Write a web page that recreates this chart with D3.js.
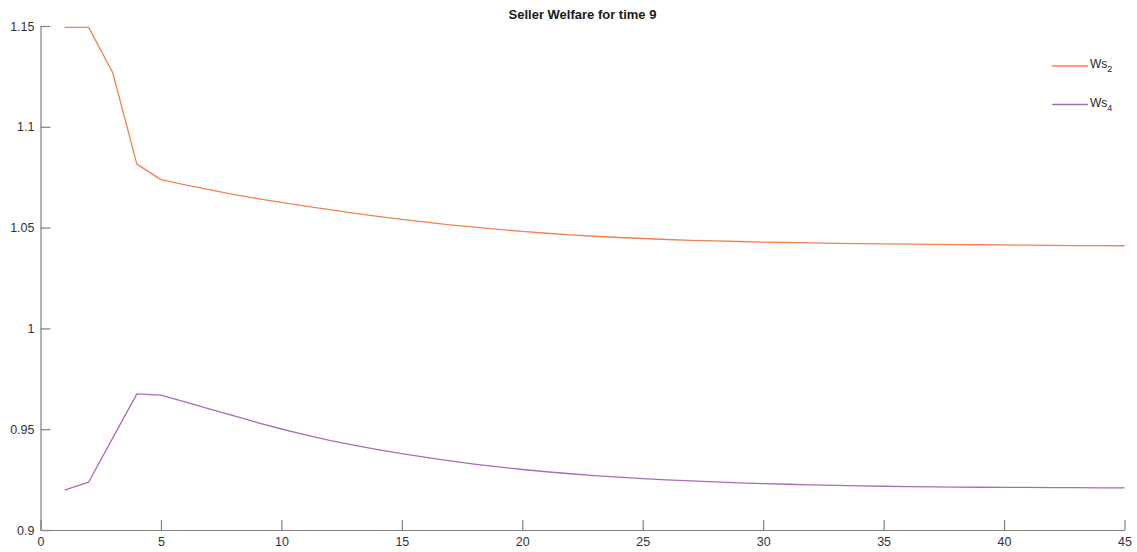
<!DOCTYPE html>
<html>
<head>
<meta charset="utf-8">
<script src="https://cdn.jsdelivr.net/npm/d3@7"></script>
<style>
  html, body { margin: 0; padding: 0; background: #fff; }
  svg { display: block; font-family: "Liberation Sans", Arial, sans-serif; }
</style>
</head>
<body>
<svg id="chart" width="1137" height="552"></svg>
<script>
// Periods 1..45
const periods = d3.range(1, 46);

// Seller welfare, market 2
const ws2 = [
  1.1493, 1.1493, 1.1268, 1.0815, 1.0738, 1.0712, 1.0688, 1.0665, 1.0644, 1.0625,
  1.0607, 1.0589, 1.0572, 1.0556, 1.0541, 1.0527, 1.0514, 1.0502, 1.0491, 1.0481,
  1.0472, 1.0464, 1.0457, 1.0451, 1.0446, 1.0441, 1.0437, 1.0434, 1.0431, 1.0428,
  1.0426, 1.0424, 1.0422, 1.0421, 1.0419, 1.0418, 1.0417, 1.0416, 1.0415, 1.0414,
  1.0413, 1.0412, 1.0411, 1.0411, 1.0410
];

// Seller welfare, market 4
const ws4 = [
  0.9198, 0.9238, 0.9457, 0.9675, 0.9669, 0.9635, 0.9601, 0.9567, 0.9533, 0.9501,
  0.9472, 0.9445, 0.9421, 0.9399, 0.9379, 0.9360, 0.9343, 0.9327, 0.9313, 0.9300,
  0.9289, 0.9279, 0.9270, 0.9262, 0.9255, 0.9249, 0.9244, 0.9239, 0.9234, 0.9230,
  0.9227, 0.9224, 0.9221, 0.9219, 0.9217, 0.9215, 0.9214, 0.9213, 0.9212, 0.9211,
  0.9211, 0.9210, 0.9210, 0.9209, 0.9209
];

const xTicks = [0, 5, 10, 15, 20, 25, 30, 35, 40, 45];
const yTicks = [0.9, 0.95, 1, 1.05, 1.1, 1.15];
const yTickLabels = ["0.9", "0.95", "1", "1.05", "1.1", "1.15"];

const seriesNames = ["2", "4"];
const seriesColors = ["#ee8353", "#a96cba"];

const svg = d3.select("#chart");
const margin = { left: 40.5, right: 12.5, top: 26, bottom: 22 };
const W = 1137, H = 552;

const x = d3.scaleLinear().domain([0, 45]).range([margin.left, W - margin.right]);
const y = d3.scaleLinear().domain([0.9, 1.15]).range([H - margin.bottom, margin.top]);

svg.append("rect").attr("width", W).attr("height", H).attr("fill", "#fff");

// Axes (ticks point into the plot)
const axisColor = "#808080";
const labelColor = "#333333";

const xAxis = svg.append("g")
  .attr("transform", `translate(0,${y(0.9)})`)
  .call(d3.axisBottom(x).tickValues(xTicks).tickSizeInner(-10).tickSizeOuter(0).tickPadding(7));
const yAxis = svg.append("g")
  .attr("transform", `translate(${x(0)},0)`)
  .call(d3.axisLeft(y).tickValues(yTicks)
    .tickFormat((d, i) => yTickLabels[i])
    .tickSizeInner(-10).tickSizeOuter(0).tickPadding(6));

[xAxis, yAxis].forEach(g => {
  g.select(".domain").attr("stroke", axisColor).attr("stroke-width", 1.2);
  g.selectAll(".tick line").attr("stroke", axisColor).attr("stroke-width", 1.2);
  g.selectAll(".tick text")
    .attr("fill", labelColor)
    .style("font-size", "12.5px")
    .style("font-family", "'Liberation Sans', Arial, sans-serif");
});

// Lines
const line = d3.line().x((d, i) => x(periods[i])).y(d => y(d));
[ws2, ws4].forEach((s, k) => {
  svg.append("path")
    .datum(s)
    .attr("fill", "none")
    .attr("stroke", seriesColors[k])
    .attr("stroke-width", 1.3)
    .attr("stroke-linejoin", "round")
    .attr("d", line);
});

// Title
svg.append("text")
  .attr("x", 582.5)
  .attr("y", 18.5)
  .attr("text-anchor", "middle")
  .attr("font-weight", "bold")
  .attr("font-size", "13px")
  .attr("fill", "#1a1a1a")
  .text("Seller Welfare for time 9");

// Legend
const legendY = [66, 104.5];
seriesNames.forEach((name, k) => {
  const g = svg.append("g");
  g.append("line")
    .attr("x1", 1052).attr("x2", 1088)
    .attr("y1", legendY[k]).attr("y2", legendY[k])
    .attr("stroke", seriesColors[k]).attr("stroke-width", 1.3);
  const t = g.append("text")
    .attr("x", 1090)
    .attr("y", legendY[k] + 2)
    .attr("font-size", "12px")
    .attr("fill", "#262626");
  t.append("tspan").text("Ws");
  t.append("tspan").attr("dy", 4).attr("font-size", "9px").text(name);
});
</script>
</body>
</html>
